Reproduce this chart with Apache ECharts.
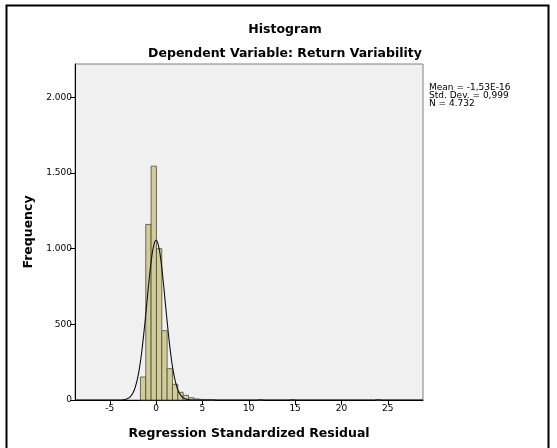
<!DOCTYPE html>
<html>
<head>
<meta charset="utf-8">
<title>Histogram</title>
<script src="https://cdn.jsdelivr.net/npm/echarts@6/dist/echarts.min.js"></script>
<style>
  html, body { margin: 0; padding: 0; background: #fff; }
  #chart { width: 557px; height: 448px; }
</style>
</head>
<body>
<div id="chart"></div>
<script>
// Histogram bins: lower edge, upper edge, frequency
var binStarts = [-1.69, -1.114, -0.538, 0.038, 0.614, 1.19, 1.766, 2.342, 2.918, 3.494, 4.07, 4.646, 5.222, 5.798, 10.98, 14.43, 23.68];
var binWidth = 0.576;
var binCounts = [152, 1160, 1545, 1000, 458, 207, 104, 51, 31, 15, 7, 4, 2, 1, 1, 1, 1];

// Fitted normal curve (frequency scale)
var curveX = [-8.75, -4, -3.5, -3.25, -3, -2.75, -2.5, -2.25, -2, -1.75, -1.5, -1.25, -1, -0.75, -0.5, -0.25, 0,
              0.25, 0.5, 0.75, 1, 1.25, 1.5, 1.75, 2, 2.25, 2.5, 2.75, 3, 3.25, 3.5, 4, 28.8];
var curveY = [0, 0, 2, 5, 12, 24, 46, 84, 143, 228, 343, 483, 640, 796, 931, 1022, 1055,
              1022, 931, 796, 640, 483, 343, 228, 143, 84, 46, 24, 12, 5, 2, 0, 0];

// Axis ticks
var xTicks = [-5, 0, 5, 10, 15, 20, 25];
var yTicks = [0, 500, 1000, 1500, 2000];

// Summary statistics
var statLines = ['Mean = -1,53E-16', 'Std. Dev. = 0,999', 'N = 4.732'];

var barData = binStarts.map(function (s, i) { return [s, s + binWidth, binCounts[i]]; });
var curveData = curveX.map(function (x, i) { return [x, curveY[i]]; });

function thousands(v) {
  return String(v).replace(/\B(?=(\d{3})+(?!\d))/g, '.');
}

var font = '"DejaVu Sans", "Liberation Sans", sans-serif';

var chart = echarts.init(document.getElementById('chart'), null, { renderer: 'canvas' });

var graphics = [
  {
    type: 'rect',
    shape: { x: 6.5, y: 5.5, width: 542, height: 470 },
    style: { fill: 'none', stroke: '#000', lineWidth: 2 },
    silent: true,
    z: 100
  }
];
statLines.forEach(function (t, i) {
  graphics.push({
    type: 'text',
    left: 429,
    top: 83 + i * 8,
    style: { text: t, font: '9px ' + font, fill: '#000' },
    silent: true
  });
});

chart.setOption({
  animation: false,
  backgroundColor: '#fff',
  title: [
    {
      text: 'Histogram',
      left: 280, top: 18, textAlign: 'center',
      textStyle: { fontFamily: font, fontSize: 12.5, fontWeight: 'bold', color: '#000' }
    },
    {
      text: 'Dependent Variable: Return Variability',
      left: 280, top: 42, textAlign: 'center',
      textStyle: { fontFamily: font, fontSize: 12.5, fontWeight: 'bold', color: '#000' }
    }
  ],
  grid: {
    left: 75, right: 134, top: 64, bottom: 48,
    show: true, backgroundColor: '#F0F0F0', borderColor: '#808080', borderWidth: 1
  },
  xAxis: {
    type: 'value',
    min: -8.75, max: 28.8,
    name: 'Regression Standardized Residual',
    nameLocation: 'middle',
    nameGap: 27,
    nameTextStyle: { fontFamily: font, fontSize: 12.5, fontWeight: 'bold', color: '#000' },
    axisLine: { show: true, onZero: false, lineStyle: { color: '#000', width: 1 } },
    axisTick: { show: true, inside: false, length: 5, customValues: xTicks, lineStyle: { color: '#000' } },
    axisLabel: {
      customValues: xTicks, margin: 4,
      fontFamily: font, fontSize: 9, color: '#000'
    },
    splitLine: { show: false }
  },
  yAxis: {
    type: 'value',
    min: 0, max: 2220,
    name: 'Frequency',
    nameLocation: 'middle',
    nameGap: 39,
    nameRotate: 90,
    nameTextStyle: { fontFamily: font, fontSize: 12.5, fontWeight: 'bold', color: '#000' },
    axisLine: { show: true, onZero: false, lineStyle: { color: '#000', width: 1 } },
    axisTick: { show: true, inside: false, length: 5, customValues: yTicks, lineStyle: { color: '#000' } },
    axisLabel: {
      customValues: yTicks, margin: 3,
      fontFamily: font, fontSize: 9, color: '#000',
      formatter: function (v) { return thousands(v); }
    },
    splitLine: { show: false }
  },
  series: [
    {
      type: 'custom',
      data: barData,
      encode: { x: [0, 1], y: 2 },
      z: 2,
      renderItem: function (params, api) {
        var p0 = api.coord([api.value(0), 0]);
        var p1 = api.coord([api.value(1), api.value(2)]);
        return {
          type: 'rect',
          shape: { x: p0[0], y: p1[1], width: p1[0] - p0[0], height: p0[1] - p1[1] },
          style: { fill: '#D2CD96', stroke: '#4a4a40', lineWidth: 0.8 }
        };
      }
    },
    {
      type: 'line',
      data: curveData,
      smooth: true,
      showSymbol: false,
      symbol: 'none',
      z: 3,
      lineStyle: { color: '#111', width: 1.1 }
    }
  ],
  graphic: graphics
});
</script>
</body>
</html>
